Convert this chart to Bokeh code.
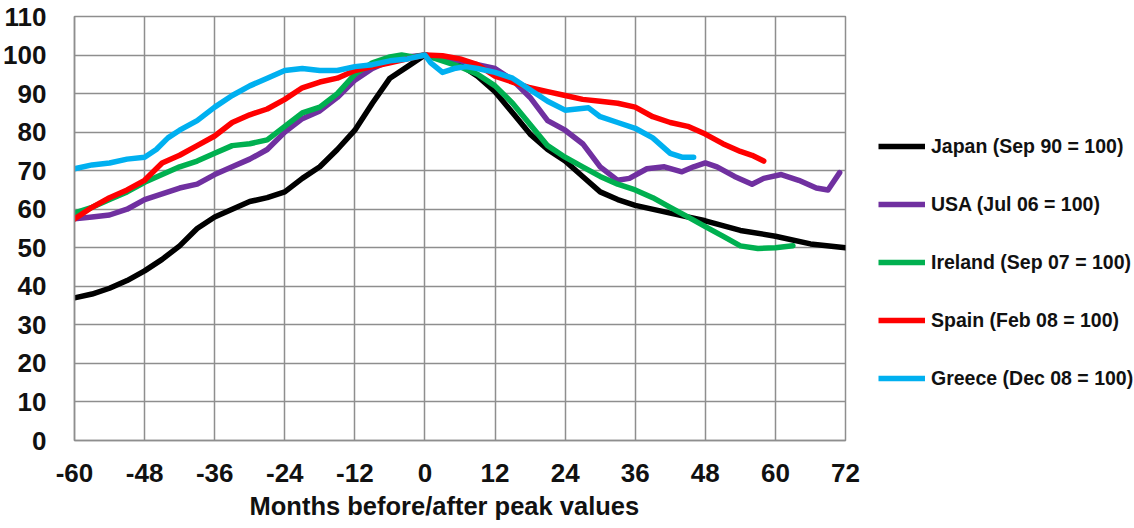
from bokeh.plotting import figure
from bokeh.models import Legend, LegendItem, FixedTicker, Range1d, Title
from bokeh.layouts import row
from bokeh.embed import file_html
from bokeh.resources import INLINE

# ---------------- data ----------------
japan_x = [-60,-57,-54,-51,-48,-45,-42,-39,-36,-33,-30,-27,-24,-21,-18,-15,-12,-9,-6,-3,0,
           3,6,9,12,15,18,21,24,27,30,33,36,42,48,54,60,66,72]
japan_v = [37,38,39.5,41.5,44,47,50.5,55,58,60,62,63,64.5,68,71,75.5,80.5,87.5,94,97,100,
           99,97.5,94.5,90.5,85,79.5,75.5,72.5,68.5,64.5,62.5,61,59,57,54.5,53,51,50]

usa_x = [-60,-57,-54,-51,-48,-45,-42,-39,-36,-33,-30,-27,-24,-21,-18,-15,-12,-9,-6,-3,0,
         3,6,9,12,15,18,21,24,27,30,33,35,38,41,44,46,48,50,53,56,58,61,64,67,69,71]
usa_v = [57.5,58,58.5,60,62.5,64,65.5,66.5,69,71,73,75.5,80,83.5,85.5,89,93.5,96.5,98.5,99.5,100,
         99,98.5,97.5,96.5,93.5,89,83,80.5,77,71,67.5,68,70.5,71,69.7,71,72,71,68.5,66.5,68,69,67.5,65.5,65,69.5]

ireland_x = [-60,-57,-54,-51,-48,-45,-42,-39,-36,-33,-30,-27,-24,-21,-18,-15,-12,-9,-6,-4,-2,0,
             3,6,9,12,15,18,21,24,27,30,33,36,39,42,45,48,51,54,57,60,63]
ireland_v = [59,60.5,62.5,64.5,67,69,71,72.5,74.5,76.5,77,78,81.5,85,86.5,90,95,98,99.5,100,99.5,100,
             98.5,97,95,92,87.5,82,76.5,73.5,71,68.5,66.5,65,63,60.5,58,55.5,53,50.5,49.8,50,50.5]

spain_x = [-60,-57,-54,-51,-48,-45,-42,-39,-36,-33,-30,-27,-24,-21,-18,-15,-12,-9,-6,-3,0,
           3,6,9,12,15,18,21,24,27,30,33,36,39,42,45,48,51,54,56,58]
spain_v = [57.5,60.5,63,65,67.5,72,74,76.5,79,82.5,84.5,86,88.5,91.5,93,94,96,97,98,99,100,
           99.8,99,97.5,94.5,93,91.5,90.5,89.5,88.5,88,87.5,86.5,84,82.5,81.5,79.5,77,75,74,72.5]

greece_x = [-60,-57,-54,-51,-48,-46,-44,-42,-39,-36,-33,-30,-27,-24,-21,-18,-15,-12,-9,-6,-3,0,
            1,3,5,7,9,12,15,18,21,24,26,28,30,33,36,39,42,44,46]
greece_v = [70.5,71.5,72,73,73.5,75.5,78.5,80.5,83,86.5,89.5,92,94,96,96.5,96,96,97,97.5,98.5,99,100,
            98,95.5,96.5,97,96.5,95.5,94,91,88,85.7,86,86.3,84,82.5,81,78.5,74.5,73.5,73.5]

series_names = ["Japan (Sep 90 = 100)", "USA (Jul 06 = 100)", "Ireland (Sep 07 = 100)",
                "Spain (Feb 08 = 100)", "Greece (Dec 08 = 100)"]
x_ticks = [-60, -48, -36, -24, -12, 0, 12, 24, 36, 48, 60, 72]
y_ticks = [0, 10, 20, 30, 40, 50, 60, 70, 80, 90, 100, 110]
x_title = "Months before/after peak values"

# ---------------- styling ----------------
colors = ["#000000", "#7030A0", "#00B050", "#FF0000", "#00B0F0"]
FONT = "Liberation Sans"
GRID = "#8e8e8e"
H = 528
W1 = 862
W2 = 272
FRAME_BOTTOM = 440

p = figure(width=W1, height=H, output_backend="svg", toolbar_location=None,
           x_range=Range1d(-60, 72), y_range=Range1d(0, 110),
           min_border_left=73, min_border_right=W1 - 845, min_border_top=16,
           min_border_bottom=H - FRAME_BOTTOM)
p.background_fill_color = "white"
p.border_fill_color = "white"
p.outline_line_color = GRID
p.outline_line_width = 1.5

p.xaxis.ticker = FixedTicker(ticks=x_ticks)
p.yaxis.ticker = FixedTicker(ticks=y_ticks)
p.xaxis.major_label_overrides = {t: str(t) for t in x_ticks}
for ax in (p.xaxis[0], p.yaxis[0]):
    ax.axis_line_color = GRID
    ax.axis_line_width = 1.5
    ax.major_tick_line_color = None
    ax.minor_tick_line_color = None
    ax.major_tick_out = 0
    ax.major_tick_in = 0
    ax.major_label_text_font = FONT
    ax.major_label_text_font_style = "bold"
    ax.major_label_text_font_size = "26px"
    ax.major_label_text_color = "#111111"
p.yaxis.major_label_standoff = 28
p.xaxis.major_label_standoff = 23

title = Title(text=x_title, align="left", offset=175, standoff=10,
              text_font=FONT, text_font_style="bold", text_font_size="25.5px",
              text_color="#111111")
p.add_layout(title, "below")

p.xgrid.grid_line_color = GRID
p.ygrid.grid_line_color = GRID
p.xgrid.grid_line_width = 1.5
p.ygrid.grid_line_width = 1.5

xs = [japan_x, usa_x, ireland_x, spain_x, greece_x]
vs = [japan_v, usa_v, ireland_v, spain_v, greece_v]
for x, v, c in zip(xs, vs, colors):
    p.line(x, v, line_color=c, line_width=5.5, line_join="round", line_cap="round")

# ---------------- legend panel (separate figure on the right) ----------------
# ranges far away from the data: the swatch renderers below are never visible,
# they only provide the legend glyph styling
lg = figure(width=W2, height=H, output_backend="svg", toolbar_location=None,
            x_axis_type=None, y_axis_type=None,
            x_range=Range1d(1000, 1001), y_range=Range1d(1000, 1001),
            min_border=0, min_border_left=0, min_border_right=0,
            min_border_top=0, min_border_bottom=0)
lg.outline_line_color = None
lg.xgrid.visible = False
lg.ygrid.visible = False
items = []
for x, v, c, name in zip(xs, vs, colors, series_names):
    r = lg.line(x=x[:1], y=v[:1], line_color=c, line_width=5.5)
    items.append(LegendItem(label=name, renderers=[r]))

# the row aligns this figure's frame with the main frame (16..440)
legend = Legend(items=items, location=(878 - W1, FRAME_BOTTOM - 407), border_line_color=None,
                background_fill_alpha=0, padding=0, margin=0,
                label_text_font=FONT, label_text_font_style="bold",
                label_text_font_size="19.5px", label_text_color="#111111",
                glyph_width=47, glyph_height=58, label_height=58,
                label_standoff=6, spacing=0)
lg.add_layout(legend, "center")

layout = row(p, lg, spacing=0)
open("out.html", "w").write(file_html(layout, INLINE))
